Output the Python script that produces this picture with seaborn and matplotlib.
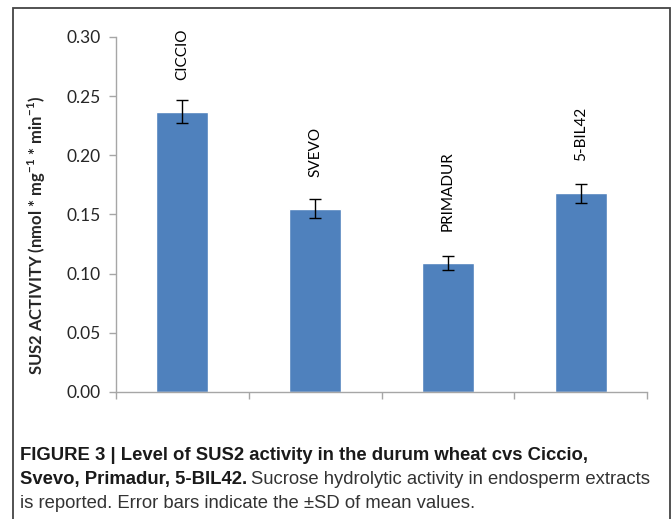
import matplotlib
matplotlib.use("Agg")
import matplotlib.pyplot as plt
import seaborn as sns
import pandas as pd
from matplotlib.patches import Rectangle

# values
cultivars = ["CICCIO", "SVEVO", "PRIMADUR", "5-BIL42"]
activity = [0.237, 0.155, 0.109, 0.168]
activity_sd = [0.010, 0.008, 0.006, 0.008]
yticks = [0.00, 0.05, 0.10, 0.15, 0.20, 0.25, 0.30]

bar_color = "#4f81bd"
axis_gray = "#a6a6a6"
chart_font = ["Lato", "DejaVu Sans"]
caption_font = ["Liberation Sans", "DejaVu Sans"]

sns.set_style("white")
plt.rcParams["font.family"] = chart_font
plt.rcParams["mathtext.fontset"] = "custom"
plt.rcParams["mathtext.rm"] = "Lato"
plt.rcParams["mathtext.bf"] = "Lato:bold"

df = pd.DataFrame({"cultivar": cultivars, "activity": activity, "sd": activity_sd})

fig = plt.figure(figsize=(6.72, 5.19), dpi=100)
ax = fig.add_axes([116 / 672, 1 - 392 / 519, (647 - 116) / 672, (392 - 37) / 519])

sns.barplot(data=df, x="cultivar", y="activity", color=bar_color, width=0.39,
            errorbar=None, saturation=1, ax=ax)
ax.errorbar(range(len(cultivars)), df["activity"], yerr=df["sd"], fmt="none",
            ecolor="black", elinewidth=1, capsize=4, capthick=1)

# data labels above each bar
for i, v in enumerate(activity):
    ax.text(i, v + 0.027, cultivars[i], rotation=90, ha="center", va="bottom",
            fontsize=11, color="black")

ax.set_xlim(-0.5, len(cultivars) - 0.5)
ax.set_ylim(0, 0.30)
ax.set_yticks(yticks)
ax.set_yticklabels([f"{t:.2f}" for t in yticks], fontsize=12.5)
ax.set_xticks([i - 0.5 for i in range(len(cultivars) + 1)])
ax.set_xticklabels([])
ax.set_xlabel("")
ax.set_ylabel(r"SUS2 ACTIVITY (nmol * mg$^{\mathbf{-1}}$ * min$^{\mathbf{-1}}$)",
              fontsize=12, fontweight="bold")
ax.yaxis.set_label_coords(-0.128, 0.44)

for side in ["top", "right"]:
    ax.spines[side].set_visible(False)
for side in ["left", "bottom"]:
    ax.spines[side].set_color(axis_gray)
    ax.spines[side].set_linewidth(1)
ax.tick_params(axis="both", which="major", length=5, width=1, color=axis_gray,
               direction="out", left=True, bottom=True)
ax.tick_params(axis="y", pad=6)

# frame around the figure panel
fig.patches.append(Rectangle((13 / 672, -0.05), (670 - 13) / 672, 1 - 8 / 519 + 0.05,
                             transform=fig.transFigure, fill=False,
                             edgecolor="#444444", linewidth=1.3, clip_on=False))

# caption; font size chosen so the second line spans the same width as the reference
renderer = fig.canvas.get_renderer()
bold_part = "Svevo, Primadur, 5-BIL42."
plain_part = "Sucrose hydrolytic activity in endosperm extracts"
probe = fig.text(0, 0, bold_part + " ", fontsize=10, fontweight="bold", family=caption_font)
probe2 = fig.text(0, 0, plain_part, fontsize=10, family=caption_font)
w10 = probe.get_window_extent(renderer).width + probe2.get_window_extent(renderer).width
probe.remove()
probe2.remove()
cap_size = 10 * 635 / w10

fig.text(20 / 672, 1 - 460 / 519,
         "FIGURE 3 | Level of SUS2 activity in the durum wheat cvs Ciccio,",
         fontsize=cap_size, fontweight="bold", family=caption_font, color="#1a1a1a")
bold2 = fig.text(20 / 672, 1 - 484 / 519, bold_part,
                 fontsize=cap_size, fontweight="bold", family=caption_font, color="#1a1a1a")
bb = bold2.get_window_extent(renderer)
fig.text((bb.x1 + 4) / 672, 1 - 484 / 519, plain_part,
         fontsize=cap_size, family=caption_font, color="#333333")
fig.text(20 / 672, 1 - 508 / 519,
         "is reported. Error bars indicate the \u00b1SD of mean values.",
         fontsize=cap_size, family=caption_font, color="#333333")

fig.savefig("out.png", dpi=100)
plt.close(fig)
